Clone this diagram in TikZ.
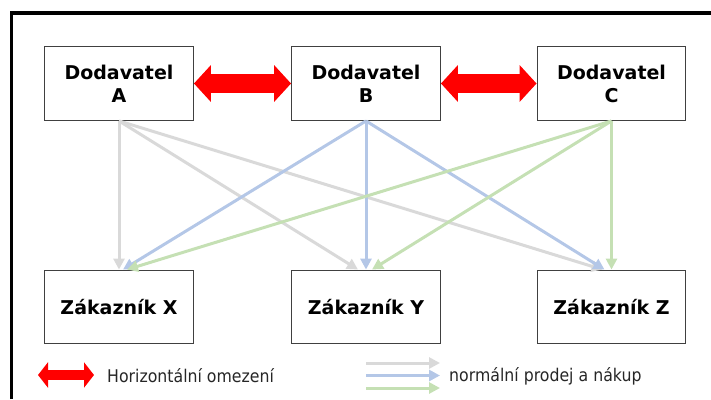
\documentclass[tikz,border=0pt]{standalone}
\usepackage{fontspec}
\setmainfont{DejaVu Sans}
\newfontfamily\legendfont[FakeStretch=0.9]{DejaVu Sans}
\usetikzlibrary{arrows.meta}
\definecolor{tradegray}{HTML}{D9D9D9}
\definecolor{tradeblue}{HTML}{B4C7E7}
\definecolor{tradegreen}{HTML}{C5E0B4}
\definecolor{boxline}{HTML}{404040}

\begin{document}
\begin{tikzpicture}
[x=1pt,y=-1pt]
\tikzset{party/.style={draw=boxline,line width=1.4pt,minimum width=148.5pt,minimum height=73.5pt,inner sep=0pt,align=center,font=\fontsize{19}{23}\selectfont\bfseries}}
\tikzset{limit/.style={red,line width=19pt,{Triangle[length=17pt,width=36pt]}-{Triangle[length=17pt,width=36pt]}}}
\tikzset{trade/.style={line width=3pt,-{Triangle[length=11pt,width=11pt]}}}
\tikzset{legend/.style={anchor=base west,inner sep=0pt,font=\legendfont\fontsize{17.5}{20}\selectfont,text=black!85}}
\useasboundingbox (0,0) rectangle (711,399);
\draw [line width=3.5pt] (11.5,399) -- (11.5,13) -- (711,13);

\node [party] (A) at (119,83.5) {Dodavatel\\A};
\node [party] (B) at (366,83.5) {Dodavatel\\B};
\node [party] (C) at (611.5,83.5) {Dodavatel\\C};
\node [party] (X) at (119,307) {Zákazník X};
\node [party] (Y) at (366,307) {Zákazník Y};
\node [party] (Z) at (611.5,307) {Zákazník Z};

\foreach \from/\to in {A/B,B/C}
	\draw [limit] (\from.east) -- (\to.west);

\foreach \to/\dx in {X/0,Y/-8,Z/-9}
	\draw [trade,tradegray] (A.south) -- ([xshift=\dx pt]\to.north);
\foreach \to/\dx in {X/4,Y/0,Z/-7}
	\draw [trade,tradeblue] (B.south) -- ([xshift=\dx pt]\to.north);
\foreach \to/\dx in {X/8,Y/6,Z/0}
	\draw [trade,tradegreen] (C.south) -- ([xshift=\dx pt]\to.north);

% legend
\coordinate (r1) at (38,375);
\coordinate (r2) at (94,375);
\draw [red,line width=10pt,{Triangle[length=10pt,width=25pt]}-{Triangle[length=10pt,width=25pt]}] (r1) -- (r2);
\node [legend] (hl) at (107,382) {Horizontální omezení};

\foreach \col/\y/\i in {tradegray/363/1,tradeblue/375.5/2,tradegreen/388/3}{
	\coordinate (s\i) at (366,\y);
	\coordinate (e\i) at (440,\y);
	\draw [trade,\col] (s\i) -- (e\i);
}
\node [legend] (nl) at (449,381) {normální prodej a nákup};
\end{tikzpicture}
\end{document}
